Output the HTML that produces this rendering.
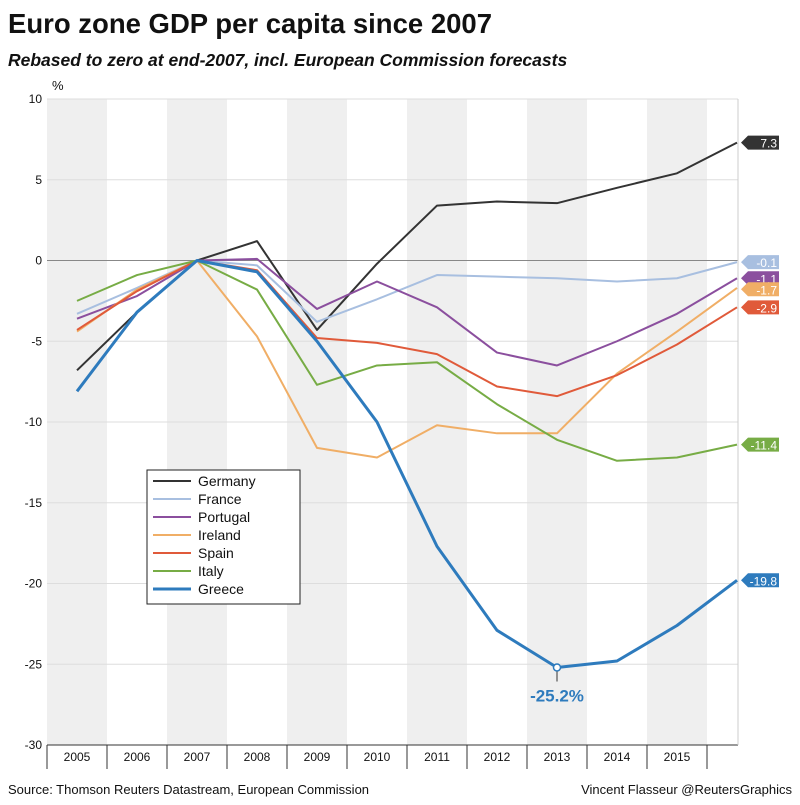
<!DOCTYPE html>
<html><head><meta charset="utf-8"><style>
body{margin:0;background:#fff;font-family:"Liberation Sans",sans-serif;}
svg text{font-family:"Liberation Sans",sans-serif;}
</style></head><body>
<svg id="chart" width="800" height="800" viewBox="0 0 800 800">
<text x="8" y="33" font-size="27.5" font-weight="bold" fill="#111">Euro zone GDP per capita since 2007</text>
<text x="8" y="66" font-size="17.5" font-style="italic" font-weight="bold" fill="#111">Rebased to zero at end-2007, incl. European Commission forecasts</text>
<text x="52" y="90" font-size="13" fill="#111">%</text>
<g id="bands"></g><g id="grid"></g><g id="lines"></g><g id="tags"></g>
<g id="legend"></g>
<text x="8" y="794" font-size="13" fill="#111">Source: Thomson Reuters Datastream, European Commission</text>
<text x="792" y="794" font-size="13" fill="#111" text-anchor="end">Vincent Flasseur @ReutersGraphics</text>
</svg>
<script>
const years=[2005,2006,2007,2008,2009,2010,2011,2012,2013,2014,2015,2016];
const yTicks=[10,5,0,-5,-10,-15,-20,-25,-30];
const seriesNames=["Germany","France","Portugal","Ireland","Spain","Italy","Greece"];
const germany=[-6.8,-3.2,0,1.2,-4.3,-0.2,3.4,3.65,3.55,4.5,5.4,7.3];
const france=[-3.3,-1.7,0,-0.3,-3.8,-2.4,-0.9,-1.0,-1.1,-1.3,-1.1,-0.1];
const portugal=[-3.6,-2.2,0,0.1,-3.0,-1.3,-2.9,-5.7,-6.5,-5.0,-3.3,-1.1];
const ireland=[-4.4,-1.8,0,-4.7,-11.6,-12.2,-10.2,-10.7,-10.7,-7.0,-4.4,-1.7];
const spain=[-4.3,-1.9,0,-0.6,-4.8,-5.1,-5.8,-7.8,-8.4,-7.1,-5.2,-2.9];
const italy=[-2.5,-0.9,0,-1.8,-7.7,-6.5,-6.3,-8.9,-11.1,-12.4,-12.2,-11.4];
const greece=[-8.1,-3.2,0,-0.7,-5.0,-10.0,-17.7,-22.9,-25.2,-24.8,-22.6,-19.8];
const colors=["#333333","#a8bfe0","#8b4f9e","#f0ae66","#e05a3a","#77ac45","#2e7bbd"];
const allSeries=[germany,france,portugal,ireland,spain,italy,greece];

const NS="http://www.w3.org/2000/svg";
const L=47,R=738,T=99,B=745;
const x=i=>77+i*60;
const y=v=>T+(10-v)*(B-T)/40;
function mk(tag,attrs,parent){const e=document.createElementNS(NS,tag);for(const k in attrs)e.setAttribute(k,attrs[k]);parent.appendChild(e);return e;}
const bands=document.getElementById('bands'),grid=document.getElementById('grid'),lines=document.getElementById('lines'),tags=document.getElementById('tags'),leg=document.getElementById('legend');
years.forEach((yr,i)=>{
  const x0=x(i)-30;
  if(i%2===0&&yr<2016){const r=mk('rect',{x:x0,y:T,width:60,height:B-T,fill:'#efefef'},bands);
  
  }
  if(yr<2016){const t=mk('text',{x:x(i),y:B+16,'font-size':12,'text-anchor':'middle',fill:'#111'},grid);t.textContent=yr;
  
  }
  const tk=mk('line',{x1:x0,x2:x0,y1:B,y2:B+24,stroke:'#333','stroke-width':1},grid);
  
  
});
yTicks.forEach(v=>{
  const g=mk('line',{x1:L,x2:R,y1:y(v),y2:y(v),stroke:v===0?'#888':'#ddd','stroke-width':1},grid);
  
  
  const t=mk('text',{x:42,y:y(v)+4,'font-size':12,'text-anchor':'end',fill:'#111'},grid);t.textContent=v;
  
  
});
mk('line',{x1:L,x2:R,y1:B,y2:B,stroke:'#333'},grid);
mk('line',{x1:R,x2:R,y1:T,y2:B,stroke:'#ccc'},grid);
allSeries.forEach((s,k)=>{
  const p=mk('polyline',{points:s.map((v,i)=>x(i)+','+y(v)).join(' '),fill:'none',stroke:colors[k],'stroke-width':k===6?3:2,'stroke-linejoin':'round'},lines);
  
  
});
const last=allSeries.map((s,k)=>({k,v:s[s.length-1],yy:y(s[s.length-1])})).sort((a,b)=>a.yy-b.yy);
for(let i=1;i<last.length;i++){if(last[i].yy-last[i-1].yy<11)last[i].yy=last[i-1].yy+11;}
last.forEach(o=>{
  const g=mk('g',{},tags);
  
  
  const yy=o.yy;
  mk('path',{d:`M741 ${yy} L748 ${yy-7} L779 ${yy-7} L779 ${yy+7} L748 ${yy+7} Z`,fill:colors[o.k]},g);
  const t=mk('text',{x:777,y:yy+5,'font-size':12,'text-anchor':'end',fill:'#fff'},g);t.textContent=o.v.toFixed(1);
});
const mi=greece.indexOf(Math.min(...greece));
const mc=mk('circle',{cx:x(mi),cy:y(greece[mi]),r:3.5,fill:'#fff',stroke:'#2e7bbd','stroke-width':1.5},tags);


mk('line',{x1:x(mi),x2:x(mi),y1:y(greece[mi])+4,y2:y(greece[mi])+14,stroke:'#333'},tags);
const lt=mk('text',{x:x(mi),y:y(greece[mi])+34,'font-size':17,'font-weight':'bold','text-anchor':'middle',fill:'#2e7bbd'},tags);
lt.textContent=greece[mi].toFixed(1)+'%';


mk('rect',{x:147,y:470,width:153,height:134,fill:'#fff',stroke:'#222'},leg);
seriesNames.forEach((n,k)=>{
  const yy=481+k*18;
  const g=mk('g',{},leg);
  
  
  mk('line',{x1:153,x2:191,y1:yy,y2:yy,stroke:colors[k],'stroke-width':k===6?3:2},g);
  const t=mk('text',{x:198,y:yy+5,'font-size':14,fill:'#111'},g);t.textContent=n;
});
</script>
</body></html>
